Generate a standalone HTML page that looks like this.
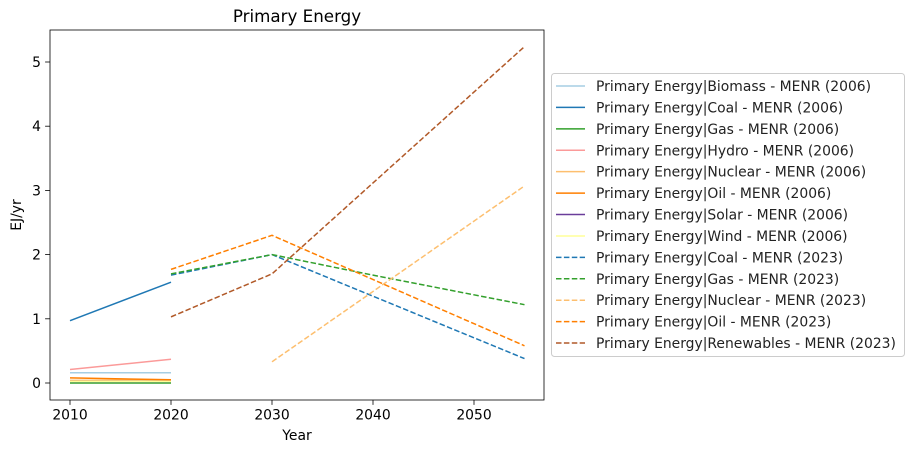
<!DOCTYPE html>
<html><head><meta charset="utf-8"><style>
body{margin:0;background:#fff;}
svg{font-family:"DejaVu Sans","Liberation Sans",sans-serif;}
</style></head><body>
<svg id="chart" width="911" height="453" xmlns="http://www.w3.org/2000/svg">
<rect x="0" y="0" width="911" height="453" fill="#fff"/>
<g id="plot"></g>
<g id="axes"></g>
<g id="legend"></g>
</svg>
<script>
const xTicks=[2010,2020,2030,2040,2050];
const yTicks=[0,1,2,3,4,5];
const seriesNames=["Primary Energy|Biomass - MENR (2006)","Primary Energy|Coal - MENR (2006)","Primary Energy|Gas - MENR (2006)","Primary Energy|Hydro - MENR (2006)","Primary Energy|Nuclear - MENR (2006)","Primary Energy|Oil - MENR (2006)","Primary Energy|Solar - MENR (2006)","Primary Energy|Wind - MENR (2006)","Primary Energy|Coal - MENR (2023)","Primary Energy|Gas - MENR (2023)","Primary Energy|Nuclear - MENR (2023)","Primary Energy|Oil - MENR (2023)","Primary Energy|Renewables - MENR (2023)"];
const seriesColors=["#a6cee3","#1f78b4","#33a02c","#fb9a99","#fdbf6f","#ff7f00","#6a3d9a","#ffff99","#1f78b4","#33a02c","#fdbf6f","#ff7f00","#b15928"];
const seriesDashed=[0,0,0,0,0,0,0,0,1,1,1,1,1];
const seriesYears=[[2010,2020],[2010,2020],[2010,2020],[2010,2020],[2010,2020],[2010,2020],[2010,2020],[2010,2020],[2020,2030,2055],[2020,2030,2040,2055],[2030,2055],[2020,2030,2055],[2020,2030,2055]];
const seriesValues=[[0.16,0.16],[0.97,1.57],[0.0,0.0],[0.21,0.37],[0.04,0.05],[0.08,0.05],[0.025,0.025],[0.025,0.025],[1.68,2.0,0.38],[1.70,2.0,1.68,1.22],[0.33,3.07],[1.77,2.3,0.58],[1.03,1.7,5.24]];
const L=50,R=544,T=30,B=400;
const xs=v=>70+(v-2010)*10.1;
const ys=v=>383-v*64.2;
const NS="http://www.w3.org/2000/svg";
function mk(tag,attrs,parent){const e=document.createElementNS(NS,tag);for(const k in attrs)e.setAttribute(k,attrs[k]);parent.appendChild(e);return e;}
const plot=document.getElementById('plot'),axes=document.getElementById('axes'),leg=document.getElementById('legend');
seriesNames.forEach((n,i)=>{
 const pts=seriesYears[i].map((y,j)=>xs(y)+","+ys(seriesValues[i][j])).join(" ");
 const p=mk('polyline',{points:pts,fill:"none",stroke:seriesColors[i],"stroke-width":1.5},plot);
 if(seriesDashed[i])p.setAttribute('stroke-dasharray','5.5,2.4');
 
 
});
const frame=mk('rect',{x:L,y:T,width:R-L,height:B-T,fill:"none",stroke:"#000","stroke-width":0.8},axes);


xTicks.forEach(t=>{
 const x=xs(t);
 mk('line',{x1:x,x2:x,y1:B,y2:B+4.9,stroke:"#000","stroke-width":0.8},axes);
 const tx=mk('text',{x:x,y:B+19.5,"text-anchor":"middle","font-size":13.9},axes);tx.textContent=t;
 
 
});
yTicks.forEach(t=>{
 const y=ys(t);
 mk('line',{x1:L-4.9,x2:L,y1:y,y2:y,stroke:"#000","stroke-width":0.8},axes);
 const tx=mk('text',{x:L-9,y:y+5,"text-anchor":"end","font-size":13.9},axes);tx.textContent=t;
 
 
});
let t=mk('text',{x:297,y:22,"text-anchor":"middle","font-size":16.7},axes);t.textContent="Primary Energy";


t=mk('text',{x:297,y:440,"text-anchor":"middle","font-size":13.9},axes);t.textContent="Year";


t=mk('text',{x:21,y:215,"text-anchor":"middle","font-size":13.9,transform:"rotate(-90 21 215)"},axes);t.textContent="EJ/yr";


const box=mk('rect',{x:551.5,y:73.5,width:353,height:283,rx:3,fill:"#fff",stroke:"#ccc","stroke-width":1},leg);


seriesNames.forEach((n,i)=>{
 const y=86+i*21.42;
 const g=mk('g',{},leg);
 
 
 const ln=mk('line',{x1:556,x2:585,y1:y,y2:y,stroke:seriesColors[i],"stroke-width":1.5},g);
 if(seriesDashed[i])ln.setAttribute('stroke-dasharray','5.5,2.4');
 const tx=mk('text',{x:596,y:y+5,"font-size":13.9,fill:"#222"},g);tx.textContent=n;
});
</script>
</body></html>
